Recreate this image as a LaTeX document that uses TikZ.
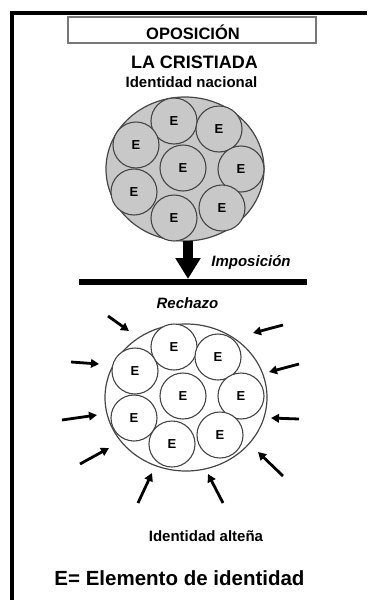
\documentclass[tikz,border=0pt]{standalone}
\usepackage{fontspec}
\setmainfont{Liberation Sans}
\usetikzlibrary{shapes.geometric,arrows.meta}
\definecolor{fillgray}{RGB}{200,200,200}
\definecolor{edgegray}{RGB}{70,70,70}
\definecolor{boxgray}{RGB}{120,120,120}
\tikzset{
  bigblob/.style={ellipse, draw=edgegray, line width=1.2pt, inner sep=0pt},
  elem/.style={circle, draw=edgegray, line width=1.1pt, minimum size=46pt, inner sep=0pt, font=\fontsize{13}{13}\selectfont\bfseries},
  lbl/.style={anchor=base, inner sep=0pt, font=\bfseries},
  push/.style={line width=2.8pt, -{Triangle[length=8pt,width=8.5pt]}},
}
\begin{document}
\begin{tikzpicture}[x=1pt,y=-1pt]
\useasboundingbox (0,0) rectangle (367,600);
% frame
\draw[line width=4pt] (12,600) -- (12,13) -- (367,13);
% title box
\node[draw=boxgray, line width=1.5pt, minimum width=248pt, minimum height=26pt, inner sep=0pt] (titlebox) at (192,30) {};
\node[lbl, font=\fontsize{16.5}{16.5}\selectfont\bfseries] (t1) at (193,39) {OPOSICIÓN};
\node[lbl, font=\fontsize{18}{18}\selectfont\bfseries] (t2) at (194.5,68.3) {LA CRISTIADA};
\node[lbl, font=\fontsize{15}{15}\selectfont\bfseries] (t3) at (191.5,87.3) {Identidad nacional};
% top blob
\node[bigblob, fill=fillgray, minimum width=158pt, minimum height=144pt] (top) at (185,169) {};
\foreach \n/\x/\y in {a/174/121, b/219/129, c/136/145, d/183/168, e/241/169, f/134/192, g/174/218, h/222/208}
  \node[elem, fill=fillgray] (t\n) at (\x,\y) {E};
% imposition
\coordinate (lineL) at (79,282);
\coordinate (lineR) at (307,282);
\draw[line width=6pt] (lineL) -- (lineR);
\coordinate (imp) at (188,279);
\draw[line width=10pt, -{Triangle[length=21pt,width=24pt]}] (188,241) -- (imp);
\node[lbl, font=\fontsize{15}{15}\selectfont\bfseries\itshape] (impl) at (251,266.7) {Imposición};
\node[lbl, font=\fontsize{15}{15}\selectfont\bfseries\itshape] (rech) at (187.5,308) {Rechazo};
% bottom blob
\node[bigblob, fill=white, minimum width=162pt, minimum height=147pt] (bot) at (186,397.5) {};
\foreach \n/\x/\y in {a/174/347, b/218/357, c/135/371, d/183/396, e/241/396, f/134/418, g/172/444, h/220/435}
  \node[elem, fill=white] (b\n) at (\x,\y) {E};
% rejection arrows
\foreach \n/\xa/\ya/\xb/\yb in {a/108/316/129/331, b/71/362/99/364, c/62/420/97/415, d/80/464/109/448,
  e/138/503/152/473, f/223/503/208/474, g/283/476/258/452, h/299/419/271/418, i/299/364/269/372, j/283/325/253/333}{
  \coordinate (s\n) at (\xa,\ya);
  \coordinate (e\n) at (\xb,\yb);
  \draw[push] (s\n) -- (e\n);
}
\node[lbl, font=\fontsize{15}{15}\selectfont\bfseries] (alt) at (206,541.7) {Identidad alteña};
\node[lbl, font=\fontsize{20.5}{20.5}\selectfont\bfseries] (leg) at (179.5,585) {E= Elemento de identidad};
\end{tikzpicture}
\end{document}
